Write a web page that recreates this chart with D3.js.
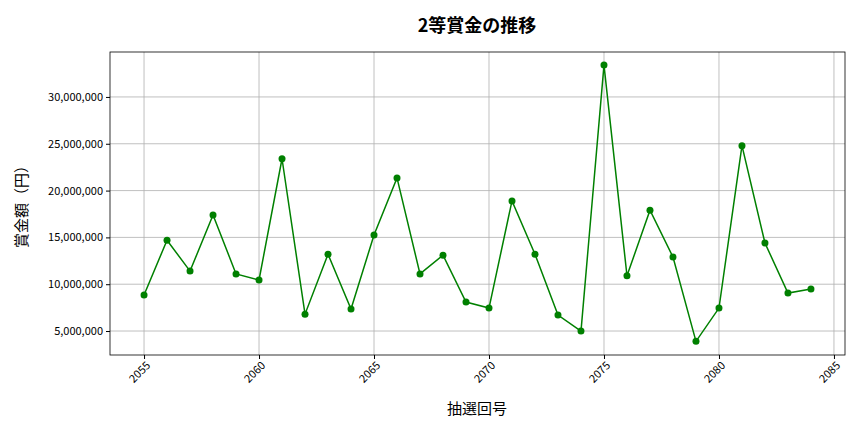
<!DOCTYPE html><html><head><meta charset="utf-8">
<script src="https://cdn.jsdelivr.net/npm/d3@7"></script>
<style>body{margin:0;background:#fff}text{font-family:"Noto Sans CJK JP","Noto Sans",sans-serif}</style></head><body>
<svg id="c" width="864" height="432"></svg>
<script>
const draws=[2055,2056,2057,2058,2059,2060,2061,2062,2063,2064,2065,2066,2067,2068,2069,2070,2071,2072,2073,2074,2075,2076,2077,2078,2079,2080,2081,2082,2083,2084];
const prizes=[8850000,14700000,11400000,17400000,11100000,10450000,23400000,6800000,13200000,7350000,15250000,21350000,11100000,13100000,8100000,7450000,18900000,13200000,6700000,5000000,33400000,10900000,17900000,12900000,3900000,7450000,24800000,14400000,9050000,9500000];
const xTicks=[2055,2060,2065,2070,2075,2080,2085];
const yTicks=[5e6,1e7,1.5e7,2e7,2.5e7,3e7];
const svg=d3.select("#c");
const L=110,R=845,T=52,B=355;
const x=d3.scaleLinear().domain([2053.52,2085.48]).range([L,R]);
const y=d3.scaleLinear().domain([2.44e6,34.8e6]).range([B,T]);
const g=svg.append("g");
g.selectAll(".gx").data(xTicks).join("line").attr("x1",d=>x(d)).attr("x2",d=>x(d)).attr("y1",T).attr("y2",B).attr("stroke","#b0b0b0").attr("stroke-width",0.8);
g.selectAll(".gy").data(yTicks).join("line").attr("y1",d=>y(d)).attr("y2",d=>y(d)).attr("x1",L).attr("x2",R).attr("stroke","#b0b0b0").attr("stroke-width",0.8);
svg.append("g").attr("transform",`translate(0,${B})`).call(d3.axisBottom(x).tickValues(xTicks).tickFormat(d3.format("d")).tickSize(4))
 .call(a=>a.selectAll("text").attr("transform","rotate(-45)").attr("text-anchor","end").attr("dx","-0.3em").attr("dy","0.5em").attr("font-size",11).attr("fill","#000"));
svg.append("g").attr("transform",`translate(${L},0)`).call(d3.axisLeft(y).tickValues(yTicks).tickFormat(d3.format(",")).tickSize(4))
 .call(a=>a.selectAll("text").attr("font-size",11).attr("fill","#000"));
svg.selectAll(".domain").remove();
svg.append("rect").attr("x",L).attr("y",T).attr("width",R-L).attr("height",B-T).attr("fill","none").attr("stroke","#000").attr("stroke-width",0.8);
const pts=draws.map((d,i)=>[d,prizes[i]]);
svg.append("path").datum(pts).attr("fill","none").attr("stroke","green").attr("stroke-width",1.5).attr("d",d3.line().x(d=>x(d[0])).y(d=>y(d[1])));
svg.selectAll(".p").data(pts).join("circle").attr("cx",d=>x(d[0])).attr("cy",d=>y(d[1])).attr("r",3.5).attr("fill","green");
svg.append("text").attr("x",477).attr("y",32).attr("text-anchor","middle").attr("font-size",18).attr("font-weight","bold").text("2等賞金の推移");
svg.append("text").attr("x",477).attr("y",414).attr("text-anchor","middle").attr("font-size",15).text("抽選回号");
svg.append("text").attr("transform","translate(27,203) rotate(-90)").attr("text-anchor","middle").attr("font-size",15).text("賞金額（円）");
</script></body></html>
